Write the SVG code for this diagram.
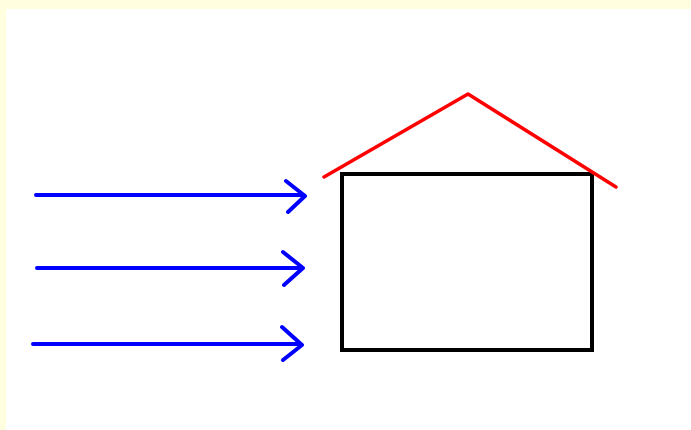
<svg xmlns="http://www.w3.org/2000/svg" width="691" height="430" viewBox="0 0 691 430">
<style>
.arrow{fill:none;stroke:#0000FF;stroke-width:4;stroke-linecap:round;stroke-linejoin:round}
.house{fill:none;stroke:#000000;stroke-width:4;stroke-linejoin:miter}
.roof{fill:none;stroke:#FF0000;stroke-width:3.5;stroke-linejoin:round;stroke-linecap:round}
</style>
<rect x="0" y="0" width="691" height="430" fill="#FFFFFF"/>
<rect x="0" y="0" width="691" height="9" fill="#FFFFDF"/>
<rect x="0" y="0" width="6" height="430" fill="#FFFFDF"/>
<g id="connectors">
<path class="arrow" d="M36,195 L304,195 M286,181 L305,196 L288,212"/>
<path class="arrow" d="M37,268 L302,268 M283,252 L303,268 L284,285"/>
<path class="arrow" d="M33,344 L301,344 M282,327 L302,345 L283,360"/>
</g>
<g id="house">
<rect class="house" x="342" y="174" width="250" height="176"/>
</g>
<g id="roof">
<polyline class="roof" points="324,177 468,94 616,187"/>
</g>
</svg>
